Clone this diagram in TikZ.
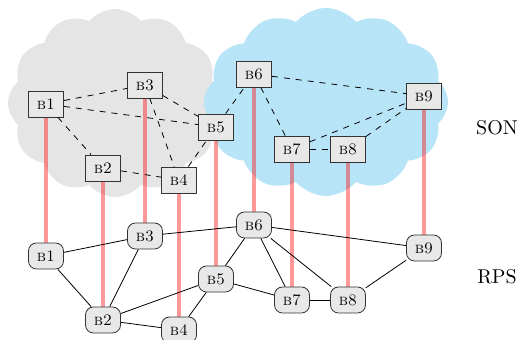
\documentclass[tikz,border=0pt]{standalone}
\usetikzlibrary{shapes.symbols}
\definecolor{cloudgray}{RGB}{229,229,229}
\definecolor{cloudblue}{RGB}{184,228,248}
\definecolor{nodegray}{RGB}{232,232,232}
\pgfdeclarelayer{cloudlayer}
\pgfdeclarelayer{linklayer}
\pgfsetlayers{cloudlayer,linklayer,main}
\begin{document}
\begin{tikzpicture}[x=0.5pt,y=-0.5pt,
  sq/.style={draw=black!80, fill=nodegray, minimum width=17.5pt, minimum height=13pt, inner sep=0pt, font=\footnotesize},
  rd/.style={sq, rounded corners=4pt},
  link/.style={red, opacity=0.4, line width=2pt},
  sonedge/.style={dashed},
  rpsedge/.style={},
  cloudbg/.style={cloud, cloud puffs=12, cloud puff arc=100, draw=none, inner sep=0pt},
  lab/.style={font=\normalsize}]
\useasboundingbox (0,0) rectangle (526,340);
% SON nodes
\node[sq] (t1) at (46,104) {\textsc{b1}};
\node[sq] (t2) at (103,168) {\textsc{b2}};
\node[sq] (t3) at (145,85) {\textsc{b3}};
\node[sq] (t4) at (179,180) {\textsc{b4}};
\node[sq] (t5) at (216,127) {\textsc{b5}};
\node[sq] (t6) at (254,74) {\textsc{b6}};
\node[sq] (t7) at (292,149) {\textsc{b7}};
\node[sq] (t8) at (348,149) {\textsc{b8}};
\node[sq] (t9) at (424,96) {\textsc{b9}};
% RPS nodes
\node[rd] (r1) at (46,256) {\textsc{b1}};
\node[rd] (r2) at (103,320) {\textsc{b2}};
\node[rd] (r3) at (145,236) {\textsc{b3}};
\node[rd] (r4) at (179,330) {\textsc{b4}};
\node[rd] (r5) at (216,279) {\textsc{b5}};
\node[rd] (r6) at (254,225) {\textsc{b6}};
\node[rd] (r7) at (292,300) {\textsc{b7}};
\node[rd] (r8) at (348,300) {\textsc{b8}};
\node[rd] (r9) at (424,248) {\textsc{b9}};
% labels
\node[lab] (son) at (497,128) {SON};
\node[lab] (rps) at (497,277) {RPS};
% clouds
\begin{pgfonlayer}{cloudlayer}
\node[cloudbg, fill=cloudgray, minimum width=107pt, minimum height=94pt] (cg) at (115,103) {};
\node[cloudbg, fill=cloudblue, minimum width=122pt, minimum height=94pt] (cb) at (326,102) {};
\end{pgfonlayer}
% links
\begin{pgfonlayer}{linklayer}
\foreach \i in {1,...,9} \draw[link] (t\i.south) -- (r\i.north);
\end{pgfonlayer}
% SON edges
\foreach \a/\b in {t1/t3,t1/t5,t1/t2,t3/t5,t3/t4,t2/t4,t4/t5,t5/t6,t6/t9,t6/t7,t7/t8,t7/t9,t8/t9}
  \draw[sonedge] (\a) -- (\b);
% RPS edges
\foreach \a/\b in {r1/r3,r1/r2,r3/r2,r3/r6,r2/r5,r2/r4,r4/r5,r5/r6,r5/r7,r6/r7,r6/r8,r6/r9,r7/r8,r8/r9}
  \draw[rpsedge] (\a) -- (\b);
\end{tikzpicture}
\end{document}
